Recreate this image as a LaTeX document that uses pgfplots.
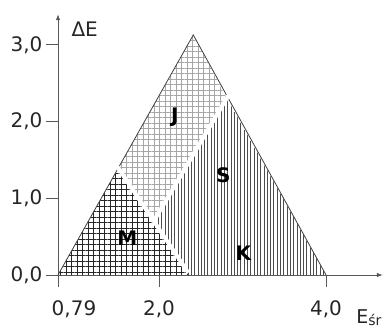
\documentclass[border=0pt]{standalone}
\usepackage{fontspec}
\setmainfont{DejaVu Sans}
\usepackage{pgfplots}
\pgfplotsset{compat=1.18}
\usetikzlibrary{patterns.meta,arrows.meta}
\begin{document}
\begin{tikzpicture}
\useasboundingbox (0,0) rectangle (385pt,327pt);
\clip (0,0) rectangle (385pt,327pt);
\begin{axis}[
  at={(58pt,52pt)}, anchor=south west,
  x=83.5pt, y=76.7pt,
  xmin=0.79, xmax=4.68, ymin=0, ymax=3.40,
  axis lines=left,
  axis line style={draw=black!65, line width=0.8pt, -{Latex[length=6pt,width=4.5pt]}},
  tick align=outside, major tick length=12pt,
  tick style={draw=black!65, line width=0.8pt},
  xtick={2.0,4.0}, xticklabels={{2{,}0},{4{,}0}},
  extra x ticks={0.79}, extra x tick labels={0{,}79},
  extra x tick style={xticklabel style={xshift=16pt}},
  ytick={0,1,2,3}, yticklabels={{0{,}0},{1{,}0},{2{,}0},{3{,}0}},
  xticklabel style={yshift=-10pt},
  ticklabel style={font=\fontsize{20}{24}\selectfont, text=black!85},
  /pgf/number format/assume math mode=true,
  clip=false,
]
% M region
\addplot[draw=none, pattern={Hatch[angle=0,distance=5.5pt,line width=0.6pt]}, pattern color=black!85]
  coordinates {(0.79,0) (1.513,1.395) (2.35,0)} -- cycle;
% J region
\addplot[draw=none, pattern={Hatch[angle=0,distance=5.5pt,line width=1pt]}, pattern color=black!35]
  coordinates {(1.513,1.395) (2.41,3.13) (2.81,2.31) (1.933,0.695)} -- cycle;
% S/K region
\addplot[draw=none, pattern={Lines[angle=90,distance=3.3pt,line width=0.9pt]}, pattern color=black!70]
  coordinates {(1.933,0.695) (2.81,2.31) (4.0,0) (2.35,0)} -- cycle;
% outline
\addplot[draw=black!75, line width=0.8pt] coordinates {(0.79,0) (2.41,3.13) (4.0,0)};
% white dividers
\addplot[draw=white, line width=4pt] coordinates {(1.49,1.43) (2.35,0.03)};
\addplot[draw=white, line width=4pt] coordinates {(2.83,2.34) (1.933,0.695)};
% region letters
\node[font=\bfseries\fontsize{20}{24}\selectfont] at (axis cs:2.19,2.06) {J};
\node[font=\bfseries\fontsize{20}{24}\selectfont] at (axis cs:2.77,1.30) {S};
\node[font=\bfseries\fontsize{20}{24}\selectfont] at (axis cs:1.62,0.48) {M};
\node[font=\bfseries\fontsize{20}{24}\selectfont] at (axis cs:3.01,0.29) {K};
% axis labels
\node[anchor=west, font=\fontsize{20}{24}\selectfont, text=black!85] at (axis cs:0.91,3.21) {ΔE};
\node[anchor=west, font=\fontsize{19}{24}\selectfont, text=black!85, inner sep=0pt] at (axis cs:4.36,-0.55) {E\raisebox{-2pt}{\fontsize{14}{16}\selectfont śr}};
\end{axis}
\end{tikzpicture}
\end{document}
